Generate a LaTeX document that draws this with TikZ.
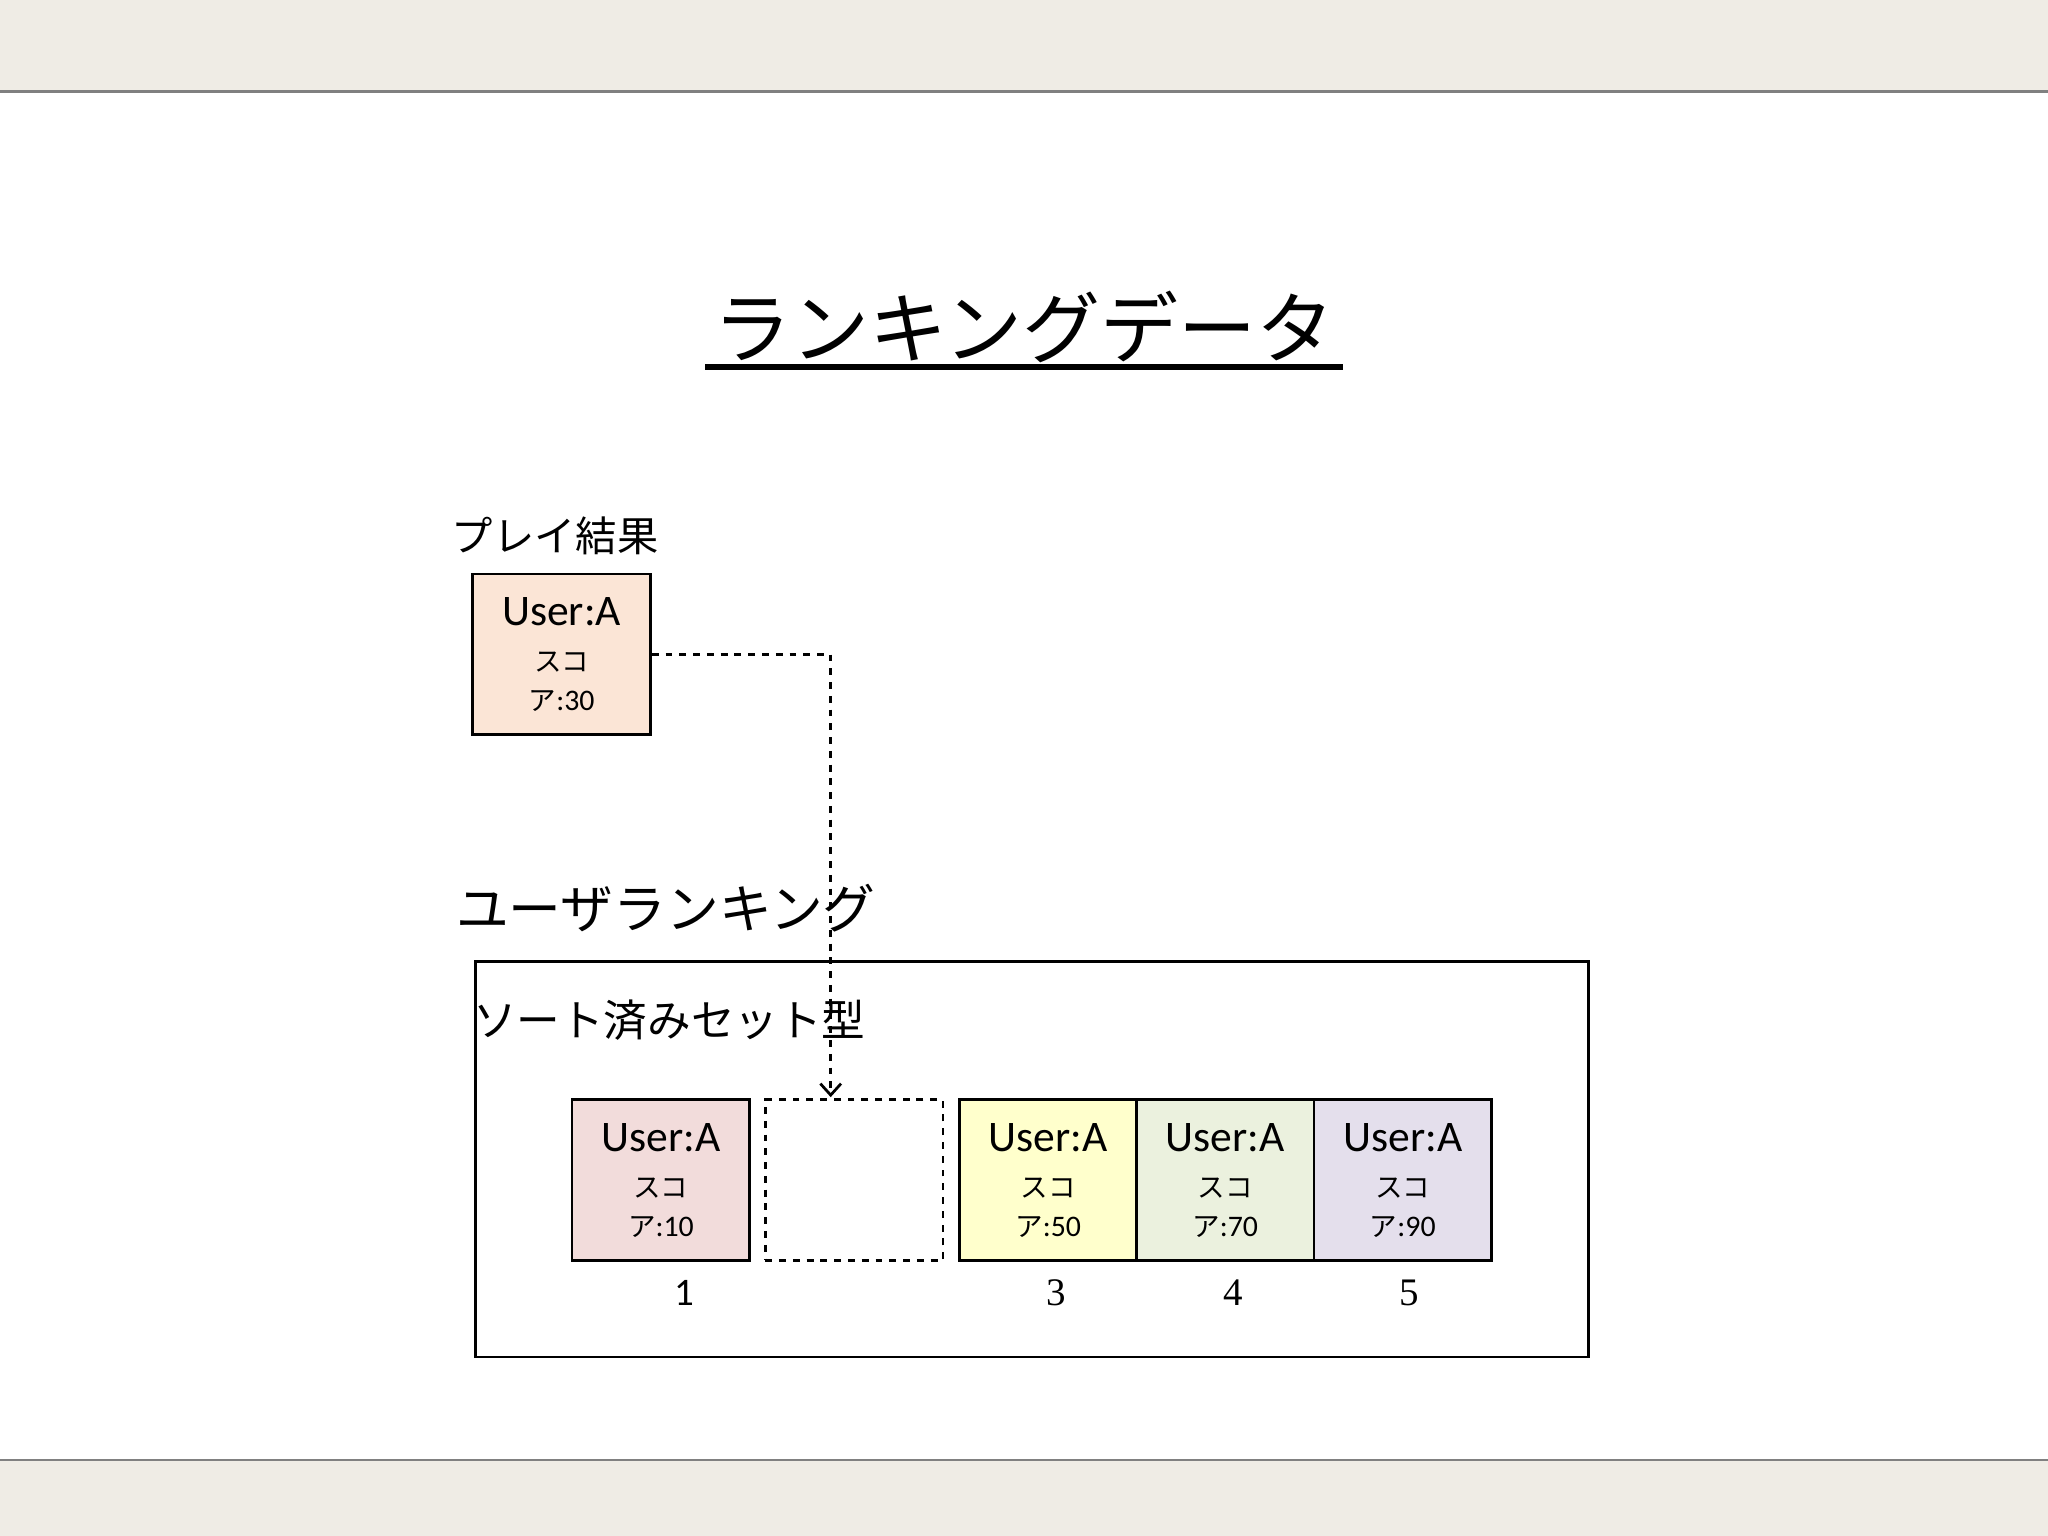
\documentclass[tikz,border=0pt]{standalone}
\usepackage{fontspec}
\setmainfont{Liberation Serif}
\newfontfamily\cjk{Noto Sans CJK JP}
\newfontfamily\lat{Carlito}
\usetikzlibrary{arrows.meta}
\begin{document}
\begin{tikzpicture}[x=0.02cm,y=-0.02cm,
 item/.style={draw,line width=1.2pt,minimum width=136*0.02cm,minimum height=123*0.02cm,inner sep=0pt,align=center},
 jp/.style={font=\cjk}]
\useasboundingbox (0,0) rectangle (1568,1176);
\fill[fill={rgb,255:red,239;green,236;blue,229}] (0,0) rectangle (1568,70);
\fill[fill={rgb,255:red,239;green,236;blue,229}] (0,1118) rectangle (1568,1176);
\draw[gray,line width=1pt] (0,70) -- (1568,70) (0,1118) -- (1568,1118);
\node[jp,font=\cjk\fontsize{34}{40}\selectfont] (title) at (784,250) {ランキングデータ};
\draw[line width=2.5pt] (540,281) -- (1028,281);
\node[jp,font=\cjk\fontsize{18}{22}\selectfont] (pl) at (425,410) {プレイ結果};
\newcommand{\boxtext}[1]{{\lat\fontsize{19}{22}\selectfont User:A}\\[8pt]{\cjk\fontsize{12}{16}\selectfont スコ}\\[5pt]{\cjk\fontsize{12}{16}\selectfont ア}{\lat\fontsize{13}{16}\selectfont :#1}}
\node[item,fill={rgb,255:red,251;green,229;blue,214}] (play) at (430,501) {\boxtext{30}};
\node[jp,font=\cjk\fontsize{23}{28}\selectfont,anchor=west] (ur) at (343,695) {ユーザランキング};
\node[draw,line width=1.2pt,minimum width=852*0.02cm,minimum height=303*0.02cm] (big) at (790,887.5) {};
\node[jp,font=\cjk\fontsize{19}{24}\selectfont,anchor=west] (st) at (356,781) {ソート済みセット型};
\node[item,fill={rgb,255:red,242;green,220;blue,219}] (b1) at (506,903.5) {\boxtext{10}};
\node[item,dashed,fill=white] (b2) at (654,903.5) {};
\node[item,fill={rgb,255:red,255;green,255;blue,204}] (b3) at (802.5,903.5) {\boxtext{50}};
\node[item,fill={rgb,255:red,235;green,241;blue,222}] (b4) at (938,903.5) {\boxtext{70}};
\node[item,fill={rgb,255:red,228;green,223;blue,236}] (b5) at (1074,903.5) {\boxtext{90}};
\node[font=\lat\fontsize{17}{20}\selectfont] (n1) at (524,990) {1};
\node[font=\fontsize{17}{20}\selectfont] (n3) at (809,990) {3};
\node[font=\fontsize{17}{20}\selectfont] (n4) at (944,990) {4};
\node[font=\fontsize{17}{20}\selectfont] (n5) at (1079,990) {5};
\draw[dashed,line width=1.2pt,-{Straight Barb[length=5pt,width=9pt]}] (play.east) -- (636,501) -- (636,840);
\end{tikzpicture}
\end{document}
